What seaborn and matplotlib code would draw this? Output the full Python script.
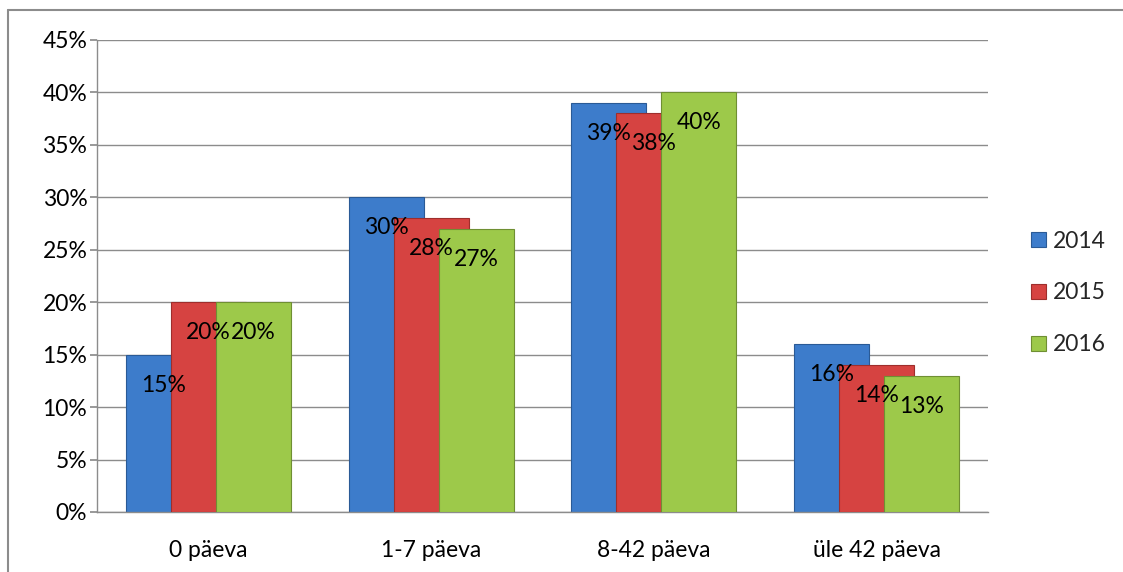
import numpy as np
import pandas as pd
import matplotlib
matplotlib.use("Agg")
import matplotlib.pyplot as plt
import seaborn as sns
from matplotlib.lines import Line2D

categories = ["0 päeva", "1-7 päeva", "8-42 päeva", "üle 42 päeva"]
years = ["2014", "2015", "2016"]
v2014 = [15, 30, 39, 16]
v2015 = [20, 28, 38, 14]
v2016 = [20, 27, 40, 13]

colors = {"2014": "#3D7CCB", "2015": "#D64341", "2016": "#9DC94A"}
edges = {"2014": "#2A5A96", "2015": "#9E2E2C", "2016": "#6F8F33"}

sns.set_theme(style="white")
plt.rcParams["font.family"] = ["Lato", "DejaVu Sans"]
FS = 16.5

fig = plt.figure(figsize=(11.23, 5.72), dpi=100)
ax = fig.add_axes([97/1123, 1-512/572, (988-97)/1123, (512-40)/572])

series = {"2014": v2014, "2015": v2015, "2016": v2016}
offsets = {"2014": -0.202, "2015": 0.0, "2016": 0.202}
bar_w = 0.337
idx = np.arange(len(categories))

for k, yr in enumerate(years):
    df = pd.DataFrame({"x": idx + offsets[yr], "v": series[yr]})
    sns.barplot(data=df, x="x", y="v", native_scale=True, width=bar_w,
                color=colors[yr], edgecolor=edges[yr], linewidth=0.8,
                saturation=1, ax=ax, label=yr, zorder=2 + k)

for yr in years:
    for i, v in enumerate(series[yr]):
        ax.text(idx[i] + offsets[yr], v - 2.9, f"{v}%", ha="center", va="center",
                fontsize=FS, color="black", zorder=10)

ax.set_xlim(-0.5, len(categories) - 0.5)
ax.set_ylim(0, 45)
ax.set_yticks(np.arange(0, 46, 5))
ax.set_yticklabels([f"{t}%" for t in range(0, 46, 5)], fontsize=FS, color="black")
ax.set_xticks(idx)
ax.set_xticklabels(categories, fontsize=FS, color="black")
ax.set_xlabel("")
ax.set_ylabel("")
ax.grid(axis="y", color="#8C8C8C", linewidth=1, zorder=0)
ax.set_axisbelow(True)
for s in ["top", "right"]:
    ax.spines[s].set_visible(False)
for s in ["left", "bottom"]:
    ax.spines[s].set_color("#8C8C8C")
    ax.spines[s].set_linewidth(1)
ax.tick_params(axis="y", which="both", left=True, length=5, color="#8C8C8C", pad=2)
ax.tick_params(axis="x", bottom=False, pad=14)

handles, labels = ax.get_legend_handles_labels()
if ax.get_legend() is not None:
    ax.get_legend().remove()
fig.legend(handles, labels, loc="center left", bbox_to_anchor=(1010/1123, 1-293/572),
           frameon=False, fontsize=FS, handlelength=0.65, handleheight=0.65,
           labelspacing=1.35, handletextpad=0.3)

fig.add_artist(Line2D([8/1123, 8/1123], [0, 1-10/572], transform=fig.transFigure,
                      color="#8C8C8C", linewidth=1.5))
fig.add_artist(Line2D([8/1123, 1], [1-10/572, 1-10/572], transform=fig.transFigure,
                      color="#8C8C8C", linewidth=1.5))

fig.savefig("out.png", dpi=100)
